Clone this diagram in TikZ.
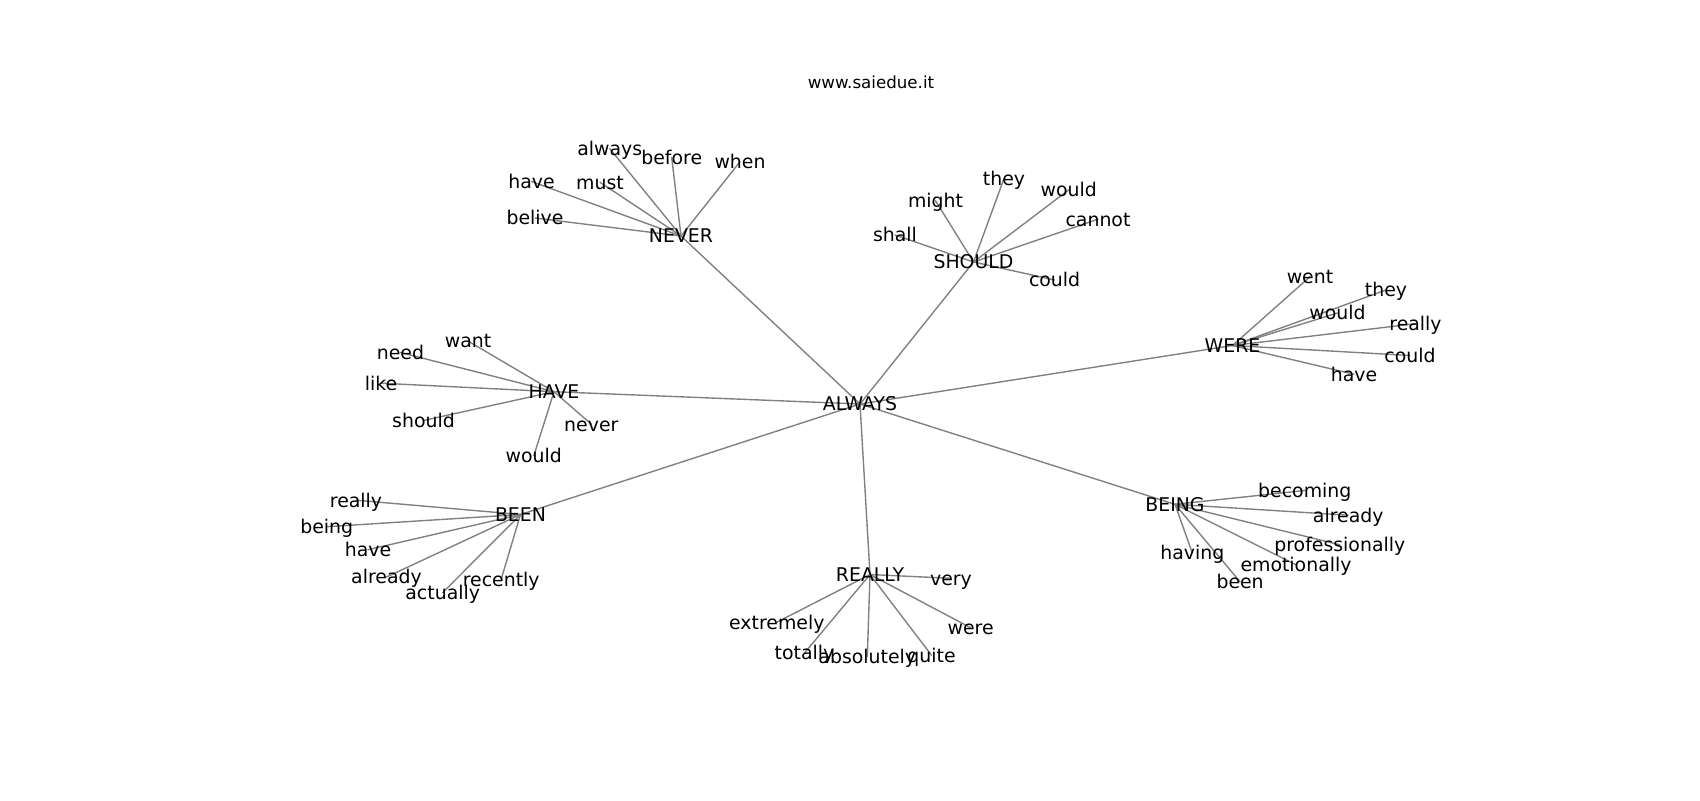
\documentclass[tikz,border=0pt]{standalone}
\usepackage{fontspec}
\setmainfont{DejaVu Sans}
\usetikzlibrary{backgrounds}
\tikzset{
	word/.style={inner sep=0pt, text height=1em, text depth=0pt, font=\fontsize{13.6}{16}\selectfont},
	edge/.style={draw=gray, line width=1pt, line cap=round},
}
\begin{document}
\begin{tikzpicture}[x=0.72pt, y=-0.72pt]
			\useasboundingbox (0,0) rectangle (1700,800);
			\node[word, font=\fontsize{12}{14}\selectfont] (title) at (871,82) {www.saiedue.it};
			% centre word and its hubs
			\node[word] (always) at (860,404) {ALWAYS};
			\foreach \n/\x/\y/\t in {never/681/236/NEVER, should/973.5/262/SHOULD, were/1232.5/345.5/WERE, have/554/391.7/HAVE, been/520.5/514.5/BEEN, really/870/574.5/REALLY, being/1175/504.3/BEING}{
				\node[word] (\n) at (\x,\y) {\t};
				\begin{pgfonlayer}{background}\draw[edge] (always.center)--(\n.center);\end{pgfonlayer}
			}
			% leaves of each hub
			\foreach \h/\n/\x/\y in {
				never/always/609.8/148.6, never/before/671.7/157.5, never/when/740/161.7, never/have/531.5/181.5, never/must/600/182.3, never/belive/535/218,
				should/might/935.5/200.7, should/they/1004/178.5, should/would/1068.7/189.9, should/cannot/1098/219.2, should/shall/895/235, should/could/1054.6/280,
				were/went/1310/276.7, were/they/1386/290, were/would/1337.5/313, were/really/1415.5/323.7, were/could/1410/355.5, were/have/1354/374.3,
				have/want/468/341, have/need/400.5/352.5, have/like/381/383.2, have/should/423.5/420.5, have/never/591.3/424.2, have/would/533.8/455.7,
				been/really/356/500.2, been/being/326.7/526.7, been/have/368/549.7, been/already/386.5/577, been/actually/442.7/592.6, been/recently/501.2/579.2,
				really/very/951/578.3, really/extremely/776.8/622.2, really/were/970.6/627.7, really/totally/804.5/653, really/absolutely/867.3/656.7, really/quite/931.5/655.2,
				being/becoming/1304.8/490.5, being/already/1348.2/515.2, being/professionally/1339.8/544.8, being/having/1192.3/553, being/emotionally/1296/564.8, being/been/1240.1/581.8}{
				\node[word] (\h-\n) at (\x,\y) {\n};
				\begin{pgfonlayer}{background}\draw[edge] (\h.center)--(\h-\n.center);\end{pgfonlayer}
			}
		\end{tikzpicture}
\end{document}
